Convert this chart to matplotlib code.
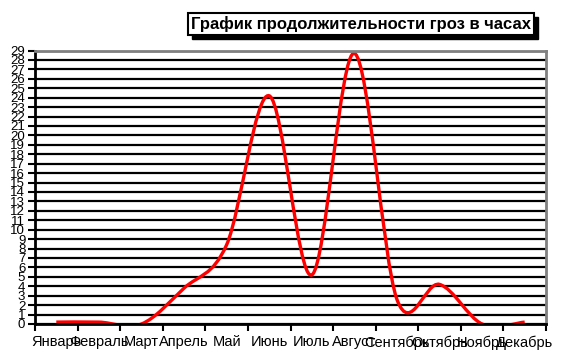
import numpy as np
import matplotlib as mpl
mpl.use('Agg')
import matplotlib.pyplot as plt
from matplotlib.path import Path
from matplotlib.patches import PathPatch, Rectangle

plt.rcParams['font.family'] = ['Liberation Sans', 'DejaVu Sans']

months = ['Январь', 'Февраль', 'Март', 'Апрель', 'Май', 'Июнь',
          'Июль', 'Август', 'Сентябрь', 'Октябрь', 'Ноябрь', 'Декабрь']
hours = [0.2, 0.2, 0.0, 3.8, 8.4, 24.2, 5.2, 28.7, 2.6, 4.2, 0.0, 0.2]
title = 'График продолжительности гроз в часах'

fig = plt.figure(figsize=(5.64, 3.56), dpi=100)
ax = fig.add_axes([35/564, 1-324/356, (546-35)/564, (324-50.5)/356])

# сглаженная линия как в Excel: безье через точки категорий
x = np.arange(len(hours)) + 0.5
y = np.array(hours)
pts = np.column_stack([x, y])
verts = [pts[0]]
codes = [Path.MOVETO]
n = len(pts)
for i in range(n - 1):
    p_prev = pts[max(i - 1, 0)]
    p_next2 = pts[min(i + 2, n - 1)]
    c1 = pts[i] + (pts[i + 1] - p_prev) / 6
    c2 = pts[i + 1] - (p_next2 - pts[i]) / 6
    verts += [c1, c2, pts[i + 1]]
    codes += [Path.CURVE4] * 3
ax.add_patch(PathPatch(Path(verts, codes), fill=False, edgecolor='red', lw=2.4, zorder=2))

ax.set_xlim(0, 12)
ax.set_ylim(0, 29)
ax.set_yticks(range(0, 30))
ax.set_yticklabels([str(v) for v in range(0, 30)], fontsize=9.5)
ax.set_xticks(range(0, 13))
ax.set_xticklabels([])
ax.set_xticks(x, minor=True)
ax.set_xticklabels(months, minor=True, fontsize=10.5)
ax.tick_params(axis='x', which='major', length=5, width=1.5, direction='out')
ax.tick_params(axis='x', which='minor', length=0, pad=8)
ax.tick_params(axis='y', length=5, width=1.5, direction='out', pad=2)

ax.grid(axis='y', color='black', lw=1.6)
ax.set_axisbelow(True)
for s in ['left', 'bottom']:
    ax.spines[s].set_color('black')
    ax.spines[s].set_linewidth(2)
for s in ['top', 'right']:
    ax.spines[s].set_color('#808080')
    ax.spines[s].set_linewidth(2)

# заголовок в рамке с тенью
t = fig.text(361/564, 1-24/356, title, ha='center', va='center', fontsize=12,
             fontweight='bold', zorder=5,
             bbox=dict(boxstyle='square,pad=0.2', fc='white', ec='black', lw=1.5))
fig.canvas.draw()
bb = t.get_bbox_patch().get_window_extent()
fig.patches.append(Rectangle((bb.x0 + 4, bb.y0 - 4), bb.width, bb.height,
                             transform=None, fc='black', ec='black', zorder=4))

fig.savefig('out.png', dpi=100)
